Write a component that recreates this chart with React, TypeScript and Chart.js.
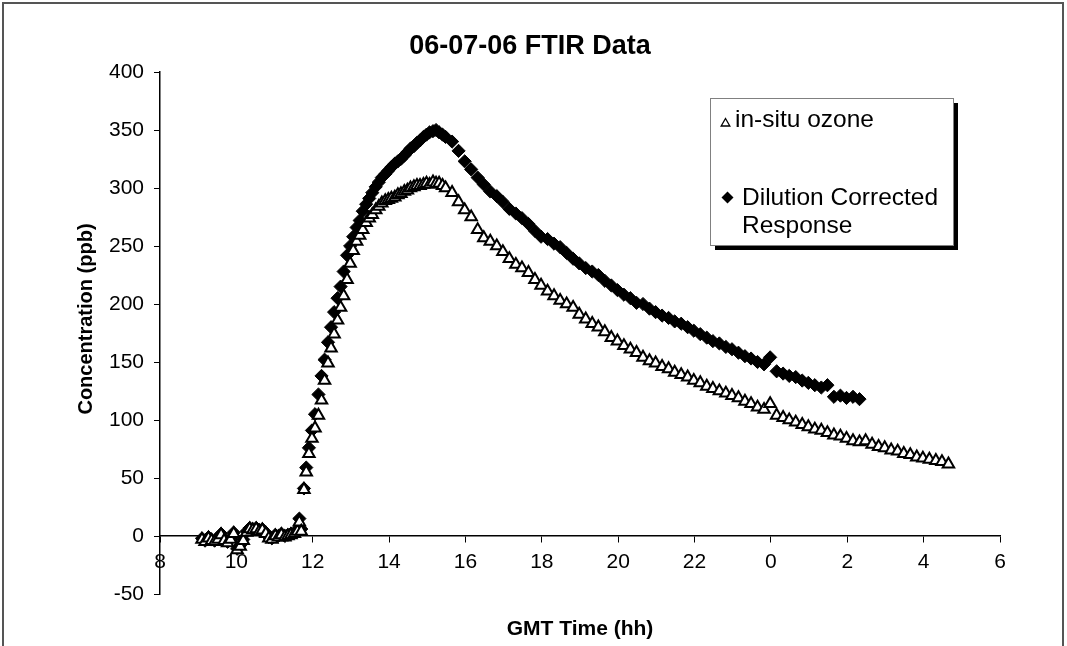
import React, { useEffect, useRef } from 'react';
import { Chart, registerables } from 'chart.js';

Chart.register(...registerables);

const CHART_TITLE = '06-07-06 FTIR Data';
const X_TITLE = 'GMT Time (hh)';
const Y_TITLE = 'Concentration (ppb)';
const SERIES_NAMES = ['in-situ ozone', 'Dilution Corrected Response'];
const LEGEND_LINES = [['in-situ ozone'], ['Dilution Corrected', 'Response']];

const X_MIN = 8;
const X_MAX = 30;
const X_STEP = 2;
const Y_MIN = -50;
const Y_MAX = 400;
const Y_STEP = 50;

// Sample times in decimal hours (values above 24 are after midnight GMT)
const TIMES = [
  9.10, 9.18, 9.27, 9.35, 9.43, 9.52, 9.60, 9.68, 9.77, 9.85, 9.93,
  10.02, 10.10, 10.18, 10.27, 10.35, 10.43, 10.52, 10.60, 10.68, 10.77, 10.85, 10.93,
  11.02, 11.10, 11.18, 11.27, 11.35, 11.43, 11.52, 11.60, 11.65, 11.70,
  11.77, 11.83, 11.90, 11.98,
  12.06, 12.15, 12.23, 12.31, 12.40, 12.48, 12.56, 12.65, 12.73, 12.81, 12.90, 12.98,
  13.06, 13.15, 13.23, 13.31, 13.40, 13.48, 13.56, 13.65, 13.73, 13.81, 13.90, 13.98,
  14.06, 14.15, 14.23, 14.31, 14.40, 14.48, 14.56, 14.65, 14.73, 14.81, 14.90, 14.98,
  15.06, 15.15, 15.23, 15.31, 15.40, 15.48,
  15.65, 15.82, 15.98, 16.15, 16.32, 16.48, 16.65, 16.82, 16.98, 17.15, 17.32, 17.48,
  17.65, 17.82, 17.98, 18.15, 18.32, 18.48, 18.65, 18.82, 18.98, 19.15, 19.32, 19.48,
  19.65, 19.82, 19.98, 20.15, 20.32, 20.48, 20.65, 20.82, 20.98, 21.15, 21.32, 21.48,
  21.65, 21.82, 21.98, 22.15, 22.32, 22.48, 22.65, 22.82, 22.98, 23.15, 23.32, 23.48,
  23.65, 23.82, 23.98, 24.15, 24.32, 24.48, 24.65, 24.82, 24.98, 25.15, 25.32, 25.48,
  25.65, 25.82, 25.98, 26.15, 26.32, 26.48, 26.65, 26.82, 26.98, 27.15, 27.32, 27.48,
  27.65, 27.82, 27.98, 28.15, 28.32, 28.48, 28.65,
];

// in-situ ozone (ppb)
const OZONE = [
  -3, -5, -2, -4, -5, -3, 1, -4, -6, -3, 2,
  -12, -9, -4, 3, 6, 5, 6, 4, 5, 2, -2, -3,
  0, -1, 1, -1, 0, 1, 2, 4, 12, 4,
  40, 55, 71, 84,
  93, 104, 117, 134, 149, 162, 174, 186, 197, 207, 221, 235,
  246, 254, 259, 264, 270, 274, 277, 281, 284, 287, 289, 290,
  291, 292, 294, 295, 297, 298, 300, 301, 302, 302, 303, 304,
  303, 305, 304, 304, 302, 300,
  296, 288, 281, 275, 264, 257, 254, 250, 245, 239, 234, 231,
  227, 221, 216, 211, 207, 203, 200, 197, 191, 187, 183, 180,
  176, 171, 168, 164, 161, 158, 154, 151, 149, 146, 144, 141,
  139, 137, 134, 132, 129, 127, 125, 123, 121, 119, 116, 114,
  111, 109, 114, 104, 102, 100, 98, 96, 94, 92, 91, 89,
  87, 86, 84, 82, 81, 82, 79, 77, 76, 74, 73, 71,
  70, 68, 67, 66, 65, 64, 62,
];

// Dilution corrected response (ppb)
const DILUTION = [
  -2, -4, -1, -3, -4, -2, 2, -3, -5, -2, 3,
  -11, -8, -3, 4, 7, 6, 7, 5, 6, 3, -1, -2,
  1, 0, 2, 0, 1, 2, 3, 5, 15, 6,
  41, 59, 76, 91,
  105, 122, 138, 152, 167, 180, 193, 205, 215, 228, 242, 250,
  258, 266, 272, 280, 286, 291, 296, 301, 305, 309, 312, 315,
  318, 321, 323, 325, 328, 331, 334, 336, 339, 341, 344, 346,
  348, 349, 350, 348, 346, 344,
  340, 332, 323, 316, 309, 303, 297, 293, 288, 282, 278, 274,
  269, 263, 258, 256, 252, 249, 244, 239, 235, 231, 228, 225,
  220, 216, 212, 208, 205, 201, 200, 196, 193, 190, 188, 185,
  183, 180, 177, 174, 171, 168, 166, 163, 161, 158, 155, 153,
  150, 148, 154, 142, 140, 138, 137, 134, 132, 130, 128, 130,
  120, 121, 119, 120, 118,
];

const FONT = '"Liberation Sans", Arial, Helvetica, sans-serif';

const decorPlugin = {
  id: 'decor',
  afterDraw(chart: any) {
    const ctx = chart.ctx as CanvasRenderingContext2D;
    const area = chart.chartArea;
    ctx.save();
    // outer frame
    ctx.strokeStyle = '#555555';
    ctx.lineWidth = 2;
    ctx.beginPath();
    ctx.moveTo(3, 700);
    ctx.lineTo(3, 3);
    ctx.lineTo(1063, 3);
    ctx.lineTo(1063, 700);
    ctx.stroke();

    ctx.fillStyle = '#000';
    ctx.textBaseline = 'alphabetic';
    ctx.textAlign = 'center';
    ctx.font = `bold 27px ${FONT}`;
    ctx.fillText(CHART_TITLE, 530, 54);

    ctx.font = `bold 21px ${FONT}`;
    ctx.fillText(X_TITLE, (area.left + area.right) / 2, 635);

    ctx.save();
    ctx.translate(92, 319);
    ctx.rotate(-Math.PI / 2);
    ctx.font = `bold 20px ${FONT}`;
    ctx.fillText(Y_TITLE, 0, 0);
    ctx.restore();

    // legend
    const bx = 710, by = 98, bw = 243, bh = 147;
    ctx.fillStyle = '#000';
    ctx.fillRect(bx + 5, by + 5, bw, bh);
    ctx.fillStyle = '#fff';
    ctx.fillRect(bx, by, bw, bh);
    ctx.strokeStyle = '#808080';
    ctx.lineWidth = 1;
    ctx.strokeRect(bx + 0.5, by + 0.5, bw, bh);

    // triangle marker
    const tx = 725.5, ty = 123.5, tr = 5;
    ctx.beginPath();
    ctx.moveTo(tx, ty - tr);
    ctx.lineTo(tx + 0.866 * tr, ty + 0.5 * tr);
    ctx.lineTo(tx - 0.866 * tr, ty + 0.5 * tr);
    ctx.closePath();
    ctx.fillStyle = '#fff';
    ctx.fill();
    ctx.strokeStyle = '#000';
    ctx.lineWidth = 1.3;
    ctx.stroke();

    // diamond marker
    const dx = 727.5, dy = 197.5, dr = 6;
    ctx.beginPath();
    ctx.moveTo(dx, dy - dr);
    ctx.lineTo(dx + dr, dy);
    ctx.lineTo(dx, dy + dr);
    ctx.lineTo(dx - dr, dy);
    ctx.closePath();
    ctx.fillStyle = '#000';
    ctx.fill();

    ctx.textAlign = 'left';
    ctx.font = `24.5px ${FONT}`;
    ctx.fillText(LEGEND_LINES[0][0], 735, 127);
    ctx.fillText(LEGEND_LINES[1][0], 742, 205);
    ctx.fillText(LEGEND_LINES[1][1], 742, 233);
    ctx.restore();
  },
};

export default function App() {
  const canvasRef = useRef<HTMLCanvasElement | null>(null);

  useEffect(() => {
    const canvas = canvasRef.current;
    if (!canvas) return;
    const ozonePts = OZONE.map((v, i) => ({ x: TIMES[i], y: v }));
    const dilPts = DILUTION.map((v, i) => ({ x: TIMES[i], y: v }));

    const chart = new Chart(canvas, {
      type: 'scatter',
      data: {
        datasets: [
          {
            label: SERIES_NAMES[0],
            data: ozonePts,
            pointStyle: 'triangle',
            pointRadius: 6.6,
            pointBorderWidth: 2,
            pointBackgroundColor: '#ffffff',
            pointBorderColor: '#000000',
            showLine: false,
          },
          {
            label: SERIES_NAMES[1],
            data: dilPts,
            pointStyle: 'rectRot',
            pointRadius: 6.6,
            pointBorderWidth: 1,
            pointBackgroundColor: '#000000',
            pointBorderColor: '#000000',
            showLine: false,
          },
        ],
      },
      options: {
        responsive: false,
        animation: false,
        devicePixelRatio: 1,
        layout: { padding: { left: 0, right: 67, top: 72, bottom: 52 } },
        plugins: {
          legend: { display: false },
          title: { display: false },
          tooltip: { enabled: false },
        },
        scales: {
          x: {
            type: 'linear',
            position: { y: 0 } as any,
            min: X_MIN,
            max: X_MAX,
            afterFit: (s: any) => { s.height = 0; },
            ticks: {
              stepSize: X_STEP,
              autoSkip: false,
              maxRotation: 0,
              padding: 8,
              color: '#000',
              font: { family: FONT, size: 21 },
              callback: (v: any) => {
                const n = Number(v);
                return String(n >= 24 ? n - 24 : n);
              },
            },
            grid: {
              display: true,
              drawOnChartArea: false,
              drawTicks: true,
              tickLength: 6,
              color: '#000',
            },
            border: { display: true, color: '#000', width: 1.5 },
          },
          y: {
            type: 'linear',
            position: 'left',
            min: Y_MIN,
            max: Y_MAX,
            afterFit: (s: any) => { s.width = 160; },
            ticks: {
              stepSize: Y_STEP,
              padding: 10,
              color: '#000',
              font: { family: FONT, size: 21 },
            },
            grid: {
              display: true,
              drawOnChartArea: false,
              drawTicks: true,
              tickLength: 6,
              color: '#000',
            },
            border: { display: true, color: '#000', width: 1.5 },
          },
        },
      },
      plugins: [decorPlugin],
    });
    return () => chart.destroy();
  }, []);

  return (
    <div style={{ position: 'absolute', left: 0, top: 0, width: 1067, height: 646, background: '#fff' }}>
      <canvas ref={canvasRef} width={1067} height={646} style={{ display: 'block' }} />
    </div>
  );
}
